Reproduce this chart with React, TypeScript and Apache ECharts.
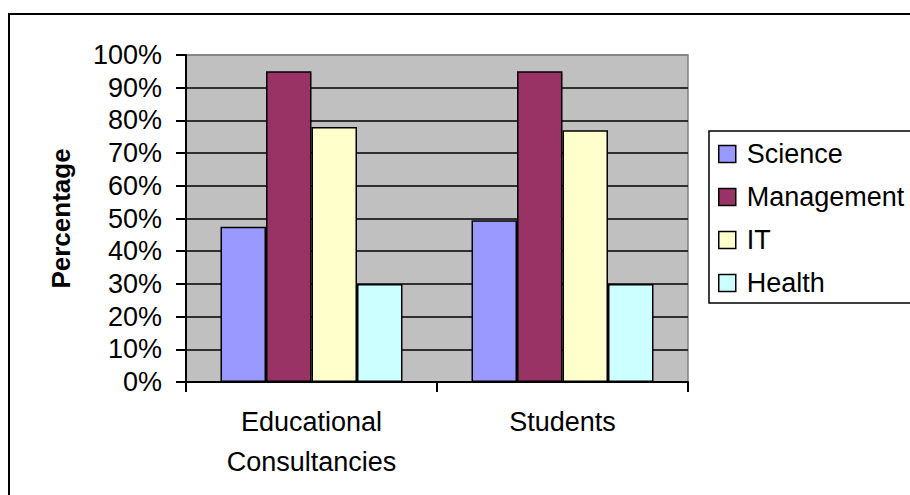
import React, { useEffect, useRef } from "react";
import * as echarts from "echarts";

// Survey shares by field of study
const categories = ["Educational\nConsultancies", "Students"];
const seriesNames = ["Science", "Management", "IT", "Health"];
const science = [47.5, 49.5];
const management = [95, 95];
const it = [78, 77];
const health = [30, 30];
const yTicks = [0, 10, 20, 30, 40, 50, 60, 70, 80, 90, 100];

const colors = ["#9999FF", "#993366", "#FFFFCC", "#CCFFFF"];
const FONT = "'Liberation Sans', Arial, sans-serif";

export default function App() {
  const ref = useRef<HTMLDivElement>(null);

  useEffect(() => {
    if (!ref.current) return;
    const chart = echarts.init(ref.current, undefined, { renderer: "svg" });
    const values = [science, management, it, health];

    // gridlines black, except the top edge of the plot which is grey
    const gridColors = yTicks.map((t, i) => (i === yTicks.length - 1 ? "#808080" : "#000000"));

    chart.setOption({
      animation: false,
      backgroundColor: "#FFFFFF",
      textStyle: { fontFamily: FONT, color: "#000" },
      graphic: [
        {
          type: "rect",
          z: 0,
          shape: { x: 9, y: 14, width: 1000, height: 600 },
          style: { fill: "none", stroke: "#000", lineWidth: 2 },
        },
        {
          type: "rect",
          z: 1,
          shape: { x: 709, y: 131, width: 300, height: 172 },
          style: { fill: "#FFFFFF", stroke: "#000", lineWidth: 1.5 },
        },
      ],
      grid: {
        left: 186,
        right: 222,
        top: 55,
        bottom: 113,
        show: true,
        backgroundColor: "#C0C0C0",
        borderColor: "#808080",
        borderWidth: 1.5,
      },
      legend: {
        orient: "vertical",
        left: 718,
        top: 139,
        padding: 0,
        itemWidth: 17,
        itemHeight: 17,
        itemGap: 13,
        icon: "rect",
        z: 5,
        data: seriesNames,
        itemStyle: { borderColor: "#000", borderWidth: 1.5 },
        textStyle: {
          fontFamily: FONT,
          fontSize: 27,
          lineHeight: 30,
          color: "#000",
          padding: [0, 0, 0, 6],
        },
      },
      xAxis: {
        type: "category",
        data: categories,
        axisLine: { lineStyle: { color: "#000", width: 2 } },
        axisTick: { show: true, alignWithLabel: false, length: 10, lineStyle: { color: "#000", width: 2 } },
        axisLabel: {
          fontFamily: FONT,
          fontSize: 27,
          lineHeight: 40,
          color: "#000",
          margin: 20,
          interval: 0,
        },
      },
      yAxis: {
        type: "value",
        min: 0,
        max: 100,
        interval: 10,
        name: "Percentage",
        nameLocation: "middle",
        nameRotate: 90,
        nameGap: 112,
        nameTextStyle: { fontFamily: FONT, fontSize: 26, fontWeight: "bold", color: "#000" },
        axisLine: { show: true, lineStyle: { color: "#000", width: 2 } },
        axisTick: { show: true, length: 10, lineStyle: { color: "#000", width: 2 } },
        axisLabel: {
          fontFamily: FONT,
          fontSize: 27,
          color: "#000",
          margin: 24,
          formatter: "{value}%",
        },
        splitLine: { show: true, lineStyle: { color: gridColors, width: 1.5 } },
      },
      series: seriesNames.map((name, i) => ({
        name,
        type: "bar",
        data: values[i],
        barGap: "0%",
        barCategoryGap: "27.5%",
        itemStyle: { color: colors[i], borderColor: "#000", borderWidth: 1.5 },
      })),
    });

    return () => chart.dispose();
  }, []);

  return (
    <div
      ref={ref}
      style={{ position: "absolute", left: 0, top: 0, width: 910, height: 495 }}
    />
  );
}
